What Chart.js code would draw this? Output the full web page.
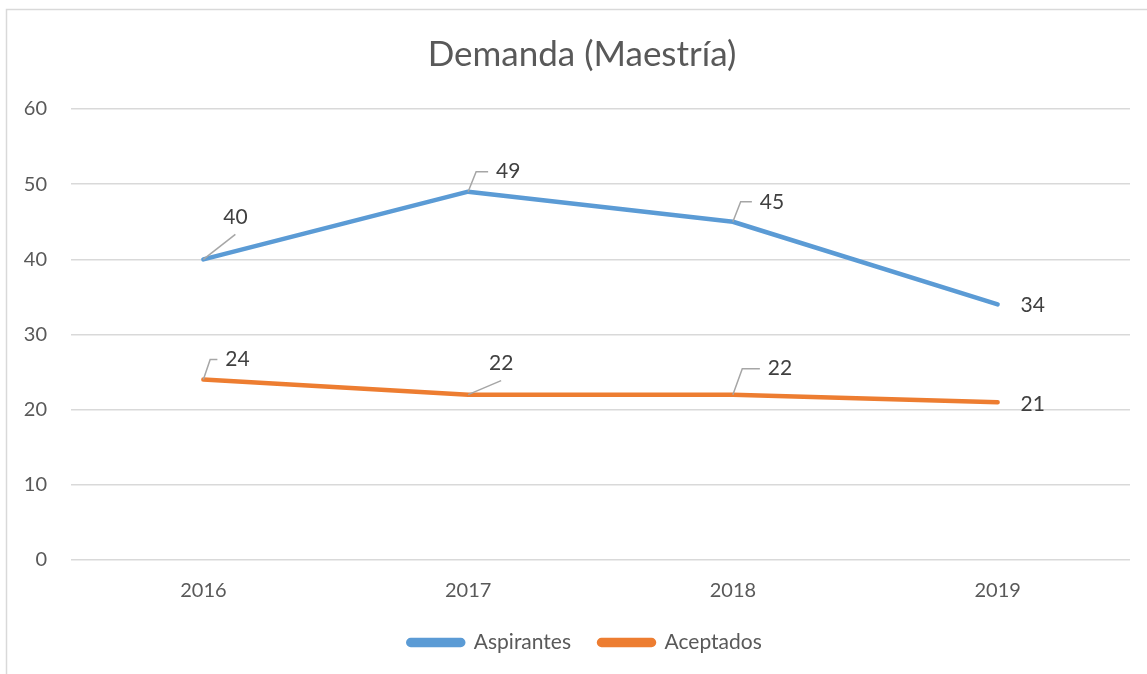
<!DOCTYPE html>
<html>
<head>
<meta charset="utf-8">
<script src="https://cdn.jsdelivr.net/npm/chart.js@4/dist/chart.umd.min.js"></script>
<style>
  html, body { margin: 0; padding: 0; background: #ffffff; }
  #wrap { position: relative; width: 1147px; height: 674px; }
</style>
</head>
<body>
<div id="wrap"><canvas id="c" width="1147" height="674"></canvas></div>
<script>
const categories = ['2016', '2017', '2018', '2019'];
const aspirantes = [40, 49, 45, 34];
const aceptados = [24, 22, 22, 21];
const yTicks = [0, 10, 20, 30, 40, 50, 60];
const chartTitle = 'Demanda (Maestría)';
const seriesNames = ['Aspirantes', 'Aceptados'];

// label placement relative to the point (px): [textDx, textDy, leader type]
const labelOffsets = [
  [[32, -42, 'diag'], [40, -20, 'elbow'], [39, -20, 'elbow'], [35, 1, 'none']],
  [[34, -20, 'elbow'], [33, -31, 'diag'], [47, -26, 'elbow'], [35, 2, 'none']]
];

const FONT = 'Lato, "Open Sans", sans-serif';

const borderPlugin = {
  id: 'frame',
  afterLayout(chart) {
    if (chart.titleBlock) { chart.titleBlock.left += 17; chart.titleBlock.right += 17; }
    if (chart.legend) { chart.legend.left += 20; chart.legend.right += 20; }
  },
  beforeDraw(chart) {
    const ctx = chart.ctx;
    ctx.save();
    ctx.fillStyle = '#ffffff';
    ctx.fillRect(0, 0, chart.width, chart.height);
    ctx.strokeStyle = '#d9d9d9';
    ctx.lineWidth = 1.5;
    ctx.beginPath();
    ctx.moveTo(6.5, chart.height + 5);
    ctx.lineTo(6.5, 9.5);
    ctx.lineTo(chart.width + 5, 9.5);
    ctx.stroke();
    ctx.restore();
  }
};

const labelPlugin = {
  id: 'dataLabels',
  afterDatasetsDraw(chart) {
    const ctx = chart.ctx;
    ctx.save();
    ctx.font = '21px ' + FONT;
    ctx.fillStyle = '#404040';
    ctx.textAlign = 'center';
    ctx.textBaseline = 'middle';
    chart.data.datasets.forEach((ds, di) => {
      const meta = chart.getDatasetMeta(di);
      meta.data.forEach((pt, i) => {
        const [dx, dy, type] = labelOffsets[di][i];
        const tx = pt.x + dx, ty = pt.y + dy;
        ctx.strokeStyle = '#a6a6a6';
        ctx.lineWidth = 1.5;
        if (type === 'diag') {
          ctx.beginPath();
          ctx.moveTo(pt.x, pt.y);
          ctx.lineTo(tx, ty + 17);
          ctx.stroke();
        } else if (type === 'elbow') {
          ctx.beginPath();
          ctx.moveTo(pt.x, pt.y);
          ctx.lineTo(pt.x + dx * 0.2, ty);
          ctx.lineTo(tx - 20, ty);
          ctx.stroke();
        }
        ctx.fillText(String(ds.data[i]), tx, ty);
      });
    });
    ctx.restore();
  }
};

new Chart(document.getElementById('c'), {
  type: 'line',
  data: {
    labels: categories,
    datasets: [
      { label: seriesNames[0], data: aspirantes, borderColor: '#5B9BD5', backgroundColor: '#5B9BD5',
        borderWidth: 4.5, pointRadius: 0, tension: 0, borderCapStyle: 'round', borderJoinStyle: 'round' },
      { label: seriesNames[1], data: aceptados, borderColor: '#ED7D31', backgroundColor: '#ED7D31',
        borderWidth: 4.5, pointRadius: 0, tension: 0, borderCapStyle: 'round', borderJoinStyle: 'round' }
    ]
  },
  options: {
    responsive: false,
    animation: false,
    layout: { padding: { top: 0, right: 17, bottom: 11, left: 0 } },
    plugins: {
      title: {
        display: true, text: chartTitle, color: '#595959',
        font: { family: FONT, size: 35, weight: 'normal' },
        padding: { top: 34, bottom: 33 }
      },
      legend: {
        position: 'bottom',
        labels: {
          color: '#595959', font: { family: FONT, size: 21 },
          boxWidth: 55, boxHeight: 5, useBorderRadius: true, borderRadius: 2.5,
          padding: 28
        }
      },
      tooltip: { enabled: false }
    },
    scales: {
      x: {
        offset: true,
        grid: { display: false, drawTicks: false },
        border: { display: false },
        ticks: { color: '#595959', font: { family: FONT, size: 20 }, padding: 19 },
        afterFit(s) { s.height = 44; }
      },
      y: {
        min: 0, max: 60,
        afterBuildTicks(s) { s.ticks = yTicks.map(v => ({ value: v })); },
        grid: { color: '#d9d9d9', lineWidth: 1.5, drawTicks: false },
        border: { display: false },
        ticks: { color: '#595959', font: { family: FONT, size: 20 }, padding: 24 },
        afterFit(s) { s.width = 71; }
      }
    }
  },
  plugins: [borderPlugin, labelPlugin]
});
</script>
</body>
</html>
